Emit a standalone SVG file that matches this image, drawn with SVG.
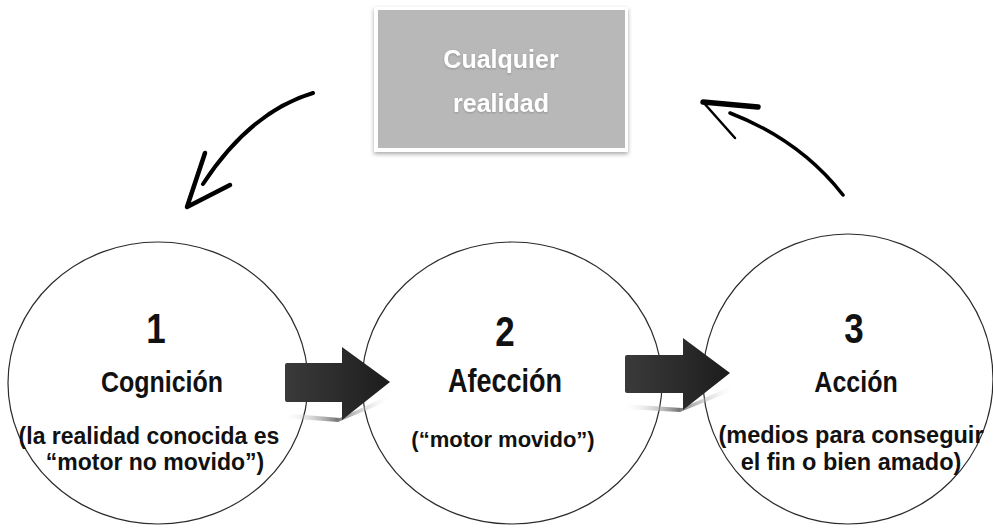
<svg xmlns="http://www.w3.org/2000/svg" width="993" height="528" viewBox="0 0 993 528">
<defs>
<style>
.ring{fill:#fff;stroke:#2b2b2b;stroke-width:1.2}
.num,.ttl,.sub,.box{font-family:"Liberation Sans",Arial,sans-serif;font-weight:bold;text-anchor:middle}
.num{font-size:35px;fill:#111}
.ttl{font-size:25px;fill:#111}
.sub{font-size:23px;fill:#111}
.box{font-size:25px;fill:#fff}
.sketch{fill:none;stroke:#000;stroke-linecap:round;stroke-linejoin:round}
.block{fill:url(#blk)}
.refl{fill:url(#rfl)}
</style>
<linearGradient id="blk" x1="0" y1="0" x2="1" y2="0">
<stop offset="0" stop-color="#3a3a3a"/>
<stop offset="0.5" stop-color="#2c2c2c"/>
<stop offset="1" stop-color="#1c1c1c"/>
</linearGradient>
<linearGradient id="rfl" x1="0" y1="0" x2="1" y2="0">
<stop offset="0" stop-color="#fff" stop-opacity="0"/>
<stop offset="0.5" stop-color="#777"/>
<stop offset="1" stop-color="#fff" stop-opacity="0"/>
</linearGradient>
<filter id="sh" x="-10%" y="-10%" width="120%" height="130%">
<feDropShadow dx="0" dy="2" stdDeviation="2" flood-color="#000" flood-opacity="0.35"/>
</filter>
<filter id="ts" x="-10%" y="-20%" width="120%" height="140%">
<feDropShadow dx="0" dy="1" stdDeviation="0.8" flood-color="#777" flood-opacity="0.6"/>
</filter>
</defs>
<rect width="993" height="528" fill="#fff"/>

<g id="node-realidad">
<rect x="374" y="7" width="254" height="145" fill="#fff" filter="url(#sh)"/>
<rect x="378" y="10" width="247" height="138" fill="#b8b8b8"/>
<text class="box" x="501" y="68" filter="url(#ts)">Cualquier</text>
<text class="box" x="501" y="112" filter="url(#ts)">realidad</text>
</g>

<g id="node-cognicion">
<ellipse class="ring" cx="158" cy="383" rx="150" ry="141"/>
<text class="num" transform="translate(156,343) scale(1,1.2)">1</text>
<text class="ttl" transform="translate(162,392) scale(1,1.2)">Cognición</text>
<text class="sub" x="149" y="444">(la realidad conocida es</text>
<text class="sub" x="155" y="470">“motor no movido”)</text>
</g>

<g id="node-afeccion">
<ellipse class="ring" cx="512" cy="383" rx="150" ry="141"/>
<text class="num" transform="translate(505,346) scale(1,1.2)">2</text>
<text class="ttl" style="font-size:27px" transform="translate(505,392) scale(1,1.2)">Afección</text>
<text class="sub" style="font-size:22px" x="503" y="447">(“motor movido”)</text>
</g>

<g id="node-accion">
<ellipse class="ring" cx="848" cy="379" rx="145" ry="145"/>
<text class="num" transform="translate(854,343) scale(1,1.2)">3</text>
<text class="ttl" transform="translate(856,392) scale(1,1.2)">Acción</text>
<text class="sub" style="font-size:23.5px" x="851" y="443">(medios para conseguir</text>
<text class="sub" style="font-size:23.5px" x="851" y="470">el fin o bien amado)</text>
</g>

<g id="connectors">
<path class="sketch" stroke-width="4" d="M313,93 Q250,112 203,184"/>
<path class="sketch" stroke-width="4.5" d="M205,153 L187,207 L230,185"/>
<path class="sketch" stroke-width="3.5" d="M843,195 Q800,140 730,113"/>
<path class="sketch" stroke-width="5.5" d="M758,107 L703,102"/>
<path class="sketch" stroke-width="2.5" d="M703,102 L735,138"/>
<path class="refl" d="M282,413 L340,418 L392,394 L386,402 L338,422 L284,418 Z"/>
<path class="block" d="M285,365 Q285,363 287,363 L342,363 L342,347 L390,382 L342,420 L342,402 L287,402 Q285,402 285,400 Z"/>
<path class="refl" d="M622,404 L682,408 L736,384 L730,392 L680,412 L624,409 Z"/>
<path class="block" d="M625,357 Q625,355 627,355 L683,355 L683,338 L730,373 L683,410 L683,393 L627,393 Q625,393 625,391 Z"/>
</g>
</svg>
